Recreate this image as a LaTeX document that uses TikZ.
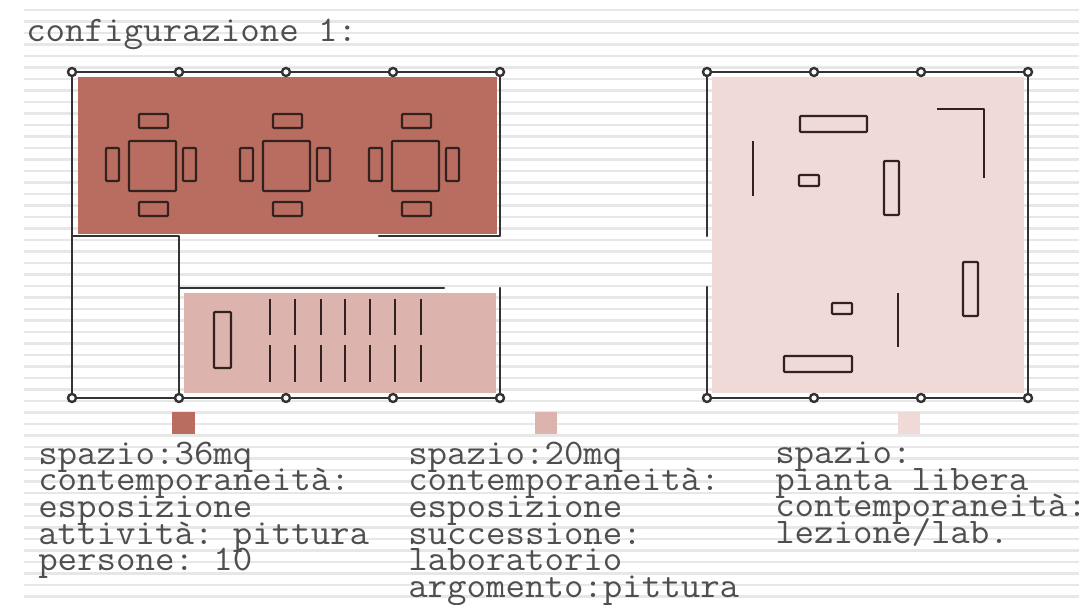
\documentclass[tikz,border=0pt]{standalone}
\usepackage{fontspec}
\newfontfamily\monotext[FakeStretch=1.05]{Latin Modern Mono}
\setlength{\lineskiplimit}{-50pt}
\definecolor{stripe}{HTML}{E7E7E7}
\definecolor{wallc}{HTML}{333333}
\definecolor{redz}{HTML}{B86D60}
\definecolor{pinkz}{HTML}{DDB3AD}
\definecolor{palez}{HTML}{EFDAD8}
\definecolor{textc}{HTML}{4F4F4F}
\definecolor{furn}{HTML}{33211E}
\tikzset{
  wall/.style={draw=wallc,line width=1.8pt,line cap=round,line join=round},
  item/.style={draw=furn,line width=1.6pt,line join=round,rounded corners=0.6pt},
  post/.style={circle,draw=wallc,fill=white,line width=1.8pt,minimum size=6pt,inner sep=0pt},
  textblock/.style={anchor=north west,inner sep=0pt,align=left,text=textc,font=\monotext\fontsize{27}{20}\selectfont\frenchspacing},
}
\begin{document}
\begin{tikzpicture}[x=0.75pt,y=-0.75pt]
\useasboundingbox (0,0) rectangle (1079,605);
\fill[white] (0,0) rectangle (1079,605);
% stripes
\foreach \n in {0,...,51}{
  \draw[stripe,line width=1.6pt] (24,{10+11.5*\n}) -- (1079,{10+11.5*\n});
}
% zones
\fill[redz] (78,77) rectangle (497,234);
\fill[pinkz] (184,293) rectangle (496,393);
\fill[palez] (712,77) rectangle (1024,393);
\fill[redz] (172,412) rectangle (195,434);
\fill[pinkz] (535,412) rectangle (557,434);
\fill[palez] (898,412) rectangle (920,434);
% tables and chairs
\foreach \d in {0,134,263}{
  \draw[item] (129+\d,141) rectangle (176+\d,191);
  \draw[item] (139+\d,114) rectangle (168+\d,128);
  \draw[item] (139+\d,202) rectangle (168+\d,216);
  \draw[item] (106+\d,148) rectangle (119+\d,181);
  \draw[item] (183+\d,148) rectangle (196+\d,181);
}
% lab desks
\draw[item] (214,312) rectangle (231,368);
\foreach \x in {270,295,321,345,370,395,421}{
  \draw[item] (\x,299) -- (\x,335);
  \draw[item] (\x,345) -- (\x,382);
}
% free plan items
\draw[item] (800,116) rectangle (867,132);
\draw[item] (799,175) rectangle (819,186);
\draw[item] (884,161) rectangle (899,215);
\draw[item] (753,141) -- (753,196);
\draw[item,rounded corners=0pt] (937,109) -- (984,109) -- (984,178);
\draw[item] (963,262) rectangle (978,316);
\draw[item] (832,303) rectangle (852,314);
\draw[item] (898,293) -- (898,347);
\draw[item] (784,356) rectangle (852,372);
% walls plan 1
\draw[wall] (72,72) -- (500,72) -- (500,236) -- (379,236);
\draw[wall] (72,72) -- (72,398) -- (500,398) -- (500,288);
\draw[wall] (72,236) -- (179,236) -- (179,398);
\draw[wall] (179,288) -- (444,288);
% walls plan 2
\draw[wall] (707,236) -- (707,72) -- (1028,72) -- (1028,398) -- (707,398) -- (707,287);
% posts
\foreach \x [count=\i] in {72,179,286,393,500}{
  \node[post] (pa\i) at (\x,72) {};
  \node[post] (pb\i) at (\x,398) {};
}
\foreach \x [count=\i] in {707,814,921,1028}{
  \node[post] (qa\i) at (\x,72) {};
  \node[post] (qb\i) at (\x,398) {};
}
% text
\node[textblock] (title) at (26,19) {configurazione 1:};
\node[textblock] (col1) at (38,441.5) {spazio:36mq\\contemporaneità:\\esposizione\\attività: pittura\\persone: 10};
\node[textblock] (col2) at (408,441.5) {spazio:20mq\\contemporaneità:\\esposizione\\successione:\\laboratorio\\argomento:pittura};
\node[textblock] (col3) at (775,441.5) {spazio:\\pianta libera\\contemporaneità:\\lezione/lab.};
\end{tikzpicture}
\end{document}
